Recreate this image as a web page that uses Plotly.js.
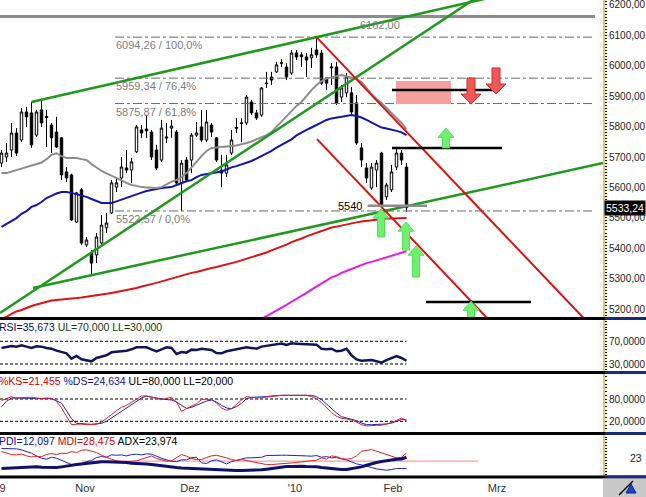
<!DOCTYPE html>
<html><head><meta charset="utf-8">
<script src="https://cdn.plot.ly/plotly-3.0.1.min.js"></script>
<style>html,body{margin:0;padding:0;background:#fff;} #chart{width:646px;height:497px;}</style>
</head><body><div id="chart"></div>
<script>
// ---------- price data (daily candles, index 0 = first visible day) ----------
const open = [5680,5700,5723,5779,5756,5848,5845,5772,5855,5834,
5805,5782,5763,5651,5641,5486,5592,5411,5384,5378,
5417,5467,5516,5601,5631,5664,5657,5717,5789,5792,
5782,5723,5690,5766,5795,5782,5615,5690,5690,5772,
5799,5756,5805,5763,5657,5647,5713,5797,5810,5812,
5881,5845,5838,5941,5963,5980,6008,5996,5976,6042,
6036,6029,6026,6052,6042,5960,5993,5996,5897,5911,
5911,5878,5730,5664,5598,5657,5713,5569,5592,5667,
5713,5667];
const high = [5723,5746,5812,5795,5861,5865,5881,5855,5888,5855,
5812,5832,5766,5667,5645,5585,5598,5437,5394,5450,
5509,5516,5624,5631,5700,5723,5697,5805,5805,5838,
5789,5740,5822,5812,5822,5789,5690,5700,5779,5815,
5855,5855,5812,5766,5707,5707,5789,5828,5828,5904,
5888,5855,5930,5980,5980,6013,6022,6009,6052,6052,
6045,6042,6059,6094.26,6052,5963,6009,6013,5937,5976,
5930,5904,5746,5680,5680,5690,5717,5615,5674,5733,
5723,5680];
const low = [5667,5684,5700,5703,5749,5799,5730,5766,5799,5733,
5713,5730,5624,5618,5490,5483,5411,5404,5312,5351,
5404,5450,5513,5585,5601,5647,5615,5713,5763,5763,
5690,5657,5684,5746,5763,5608,5522.57,5618,5647,5766,
5749,5749,5766,5684,5601,5634,5707,5779,5749,5805,
5838,5822,5832,5927,5937,5976,5996,5953,5970,6019,
5996,5963,5993,6026,5937,5920,5937,5871,5881,5897,
5838,5740,5667,5615,5592,5601,5536,5559,5585,5657,
5674,5520];
const close = [5713,5713,5779,5713,5848,5832,5740,5848,5812,5830,
5763,5733,5641,5631,5493,5582,5417,5427,5351,5437,
5476,5483,5615,5615,5667,5657,5684,5799,5779,5786,
5700,5664,5795,5763,5802,5615,5680,5624,5772,5779,
5756,5815,5782,5690,5647,5674,5756,5795,5812,5897,
5845,5828,5927,5943,5953,6003,6010,5963,6042,6029,
6030,6019,6036,6036,5943,5943,5996,5878,5927,5963,
5848,5746,5690,5631,5667,5680,5542,5608,5651,5713,
5690,5533.24];

// ---------- moving averages ----------
const maGray = [5647,5647,5652,5657,5662,5667,5672,5677,5682,5693,
5707,5712,5703,5697,5697,5697,5693,5690,5677,5664,
5654,5646,5639,5631,5623,5615,5608,5605,5601,5600,
5598,5598,5601,5611,5619,5624,5634,5647,5664,5684,
5703,5720,5730,5731,5733,5735,5736,5738,5741,5746,
5751,5758,5764,5772,5782,5799,5815,5832,5851,5868,
5881,5901,5920,5937,5950,5958,5963,5966,5970,5966,
5963,5957,5947,5927,5907,5891,5878,5861,5845,5828,
5812,5792];
const maBlue = [5470,5480,5490,5499,5513,5522,5536,5542,5552,5565,
5572,5580,5585,5585,5582,5578,5573,5569,5562,5555,
5549,5549,5549,5554,5560,5567,5573,5578,5583,5588,
5592,5595,5598,5600,5601,5608,5615,5620,5624,5634,
5641,5644,5647,5649,5652,5659,5666,5670,5675,5680,
5687,5695,5703,5710,5720,5731,5740,5748,5758,5771,
5781,5789,5797,5805,5814,5822,5827,5830,5832,5835,
5838,5835,5830,5822,5814,5805,5797,5794,5791,5786,
5781,5772];
const maRed = [5167,5174,5184,5192,5197,5204,5210,5215,5220,5225,
5228,5230,5231,5233,5235,5236,5238,5240,5243,5245,
5246,5250,5253,5256,5259,5263,5266,5269,5274,5279,
5282,5286,5291,5296,5299,5306,5310,5315,5319,5322,
5327,5332,5335,5338,5343,5348,5351,5355,5360,5365,
5370,5375,5379,5386,5393,5399,5406,5412,5420,5425,
5432,5439,5445,5450,5457,5463,5468,5471,5475,5478,
5482,5485,5488,5490,5493,5495,5496,5498,5498,5499,
5499,5499];
const maMagentaStart = 50;
const maMagenta = [5149,5158,5168,5177,5186,5196,5205,5214,5224,5233,
5243,5253,5264,5274,5285,5296,5304,5310,5319,5325,
5332,5338,5345,5351,5355,5360,5365,5370,5375,5380,
5385,5390];

// ---------- indicators ----------
const rsi = [58.2,59.4,61.8,60.6,63,60.6,58.2,61.2,60.6,58.2,
57,53.5,51.2,48.8,39.4,44.1,38.2,37,34.7,40.6,
42.9,45.3,50.6,51.2,52.4,53.5,55.9,59.4,59.4,59.4,
55.9,52.4,55.9,59.4,58.2,47.6,51.2,50,55.3,54.7,
57,55.9,54.7,49.4,48.8,52.4,54.1,55.3,57,59.4,
58.2,57,60.6,61.8,62.9,64.7,65.9,63.5,66.5,65.9,
65.3,65.3,65.3,64.1,57,55.9,57,52.4,53.5,57,
45.3,38.2,35.9,35.9,37,34.7,32.4,37,40.6,44.1,
40.6,35.673];
const stochK = [75.5,80.9,86.3,82.7,84.5,84.5,84.5,82.7,80.9,82.7,
81.8,73.7,55.8,33.4,11,12,12.8,11,11,12,
18.2,27.2,37.9,48.7,57.6,63,71.9,80.9,88.1,88.1,
84.5,80.9,78.2,81.8,84.5,71.9,46.9,54,61.2,67.5,
78.2,80,78.2,69.3,55.8,49.6,54,66.6,77.3,86.3,
83.6,82.7,83.6,85.4,87.2,89.9,89.9,89.9,89.9,89.9,
89.9,89.9,86.3,80.9,70.2,55.8,43.3,33.4,28.1,26.3,
23.6,18.2,11,7.5,9.3,9.3,9.3,12,16.4,22.7,
29,21.455];
const stochD = [59.4,73.7,82.7,82.7,82.7,82.7,82.7,81.8,80.9,82.7,
80.9,75.5,68.4,48.7,27.2,14.6,12.8,12.8,12,12.8,
14.6,20,29,37.9,46.9,55.8,64.8,73.7,82.7,88.1,
86.3,82.7,80,78.2,77.3,71.9,63,54.9,57.6,63,
68.4,74.6,77.3,71.9,63,55.8,54,59.4,68.4,80.9,
84.5,84.5,84.5,86.3,88.1,89.9,89.9,89.9,89.9,89.9,
89.9,89.9,89.9,86.3,78.2,66.6,54,42.4,32.5,29,
27.2,21.8,15.5,11,11,11,11,12.8,15.5,20,
24.5,24.634];
const pdi = [33.1,33.1,33,32.7,31.7,30.3,28.2,25.4,23,22,
24,23,20.6,18.5,16.4,15.4,17.5,19.5,20.6,23.7,
24.7,24,26.5,26.1,26.5,25.4,26.8,27.2,26.5,27.5,
27.2,24.7,23,21.3,19.9,19.5,21.3,21.3,23.7,24,
18.2,17.5,20.3,21.3,18.9,17.1,19.5,20.9,22,23.4,
23.4,23.7,24,25.8,26.1,26.1,26.1,26.1,26.1,26.1,
25.4,25.4,25.1,25.8,24,24.7,23.4,23.7,22.3,21.3,
19.2,17.1,16.1,14.3,13.3,11.9,10.9,10.5,11.2,12.3,
12.3,12.097];
const mdi = [30,28.2,26.8,26.5,27.2,25.4,24.4,24.7,24.7,26.8,
27.9,26.8,28.2,27.9,30,28.9,31.3,31.7,30.6,28.9,
26.1,23.7,22,20.3,19.2,19.2,19.9,20.3,22,24,
25.4,22.7,21.3,19.9,20.3,23.4,26.8,25.1,22.7,21.6,
21.6,23.7,25.4,26.1,25.1,23.4,21.6,20.6,21.6,20.6,
19.5,18.9,17.8,16.4,16.4,16.8,17.1,17.1,17.8,18.5,
19.2,19.9,19.9,20.9,23.4,22,25.4,24.7,22.7,22,
22.7,25.4,30.3,31,32,30.3,28.6,26.8,25.1,23.4,
24,28.475];
const adx = [12.3,12.6,12.9,13.3,13.6,14,14.3,14,13.6,13.3,
12.9,13.3,14,15,15.7,16.4,17.1,17.8,18.5,18.9,
19.2,19.2,19.2,19.2,18.9,18.5,17.8,17.8,17.8,17.1,
16.4,15.7,14.7,14.3,13.6,13.3,12.9,12.6,12.3,12.3,
12.3,11.9,11.6,11.2,10.9,10.5,10.2,10.2,10.2,10.2,
10.2,10.5,10.9,11.6,12.3,13.3,14,14.3,14.3,14.7,
14.7,14.3,14.3,14,13.3,12.6,11.9,11.2,11.2,11.2,
11.9,12.9,14,15.7,17.5,18.5,19.5,20.6,21.3,22,
22.3,23.974];
const rsiBands = [70, 30];
const stochBands = [80, 20];
const adxRefLevel = 20;
const adxRefSpan = [16.1, 95.3];

// ---------- time axis ----------
const monthTickPos = [0.2, 16.7, 37.7, 58.7, 78.3, 99.1];
const monthTickText = ['9', 'Nov', 'Dez', "'10", 'Feb', 'Mrz'];

// ---------- drawings ----------
const fibLevels = [6094.26, 5959.34, 5875.87, 5522.57];
const fibSpan = [22.7, 118.7];
const resistLevel = 6162.00, resistSpan = [-0.3, 118.7], resistLabelPos = 75.7;
const supportLevel = 5540, supportSpan = [73.2, 85.1];
const greenLines = [ [[6, 98.3], [5881, 6226.3]], [[-0.3, 96], [5187, 6235]], [[6.3, 120.3], [5269, 5680]] ];
const redLines = [ [[63, 118], [6094.26, 5142.8]], [[63.1, 98], [5759, 5155]] ];
const blackLevels = [5920, 5730, 5223];
const blackSpans = [[78.1, 99.7], [78.1, 100.1], [84.9, 105.9]];
const zoneX = [78.9, 89.9], zonePrice = [5874, 5950];
const upArrowX = [88.9, 75.9, 80.9, 82.9, 93.9];
const upArrowTip = [5795, 5529, 5486, 5407, 5226];
const upArrowBase = [5730, 5437, 5394, 5305, 5120];
const downArrowX = [93.9, 98.9];
const downArrowTop = [5960, 5993];
const downArrowTip = [5874, 5907];

// ---------- build ----------
const days = close.map((_, i) => i);
const lastDay = days[days.length - 1];
const fmt = (v, d) => v.toFixed(d).replace('.', ',');
const traces = [];

fibLevels.forEach(l => traces.push({type:'scatter', mode:'lines', x:fibSpan, y:[l,l], xaxis:'x', yaxis:'y',
  line:{color:'#6a6a6a', width:1, dash:'dashdot'}, hoverinfo:'skip'}));
traces.push({type:'scatter', mode:'lines', x:resistSpan, y:[resistLevel,resistLevel], line:{color:'#8c8c8c', width:3}, hoverinfo:'skip'});

traces.push({type:'candlestick', x:days, open:open, high:high, low:low, close:close, xaxis:'x', yaxis:'y',
  whiskerwidth:0, hoverinfo:'skip',
  increasing:{line:{color:'#000', width:1}, fillcolor:'#fff'},
  decreasing:{line:{color:'#000', width:1}, fillcolor:'#000'}});

const maLine = (y, x, c) => ({type:'scatter', mode:'lines', x:x, y:y, xaxis:'x', yaxis:'y', line:{color:c, width:2}, hoverinfo:'skip'});
traces.push(maLine(maRed, days, '#dc1414'));
traces.push(maLine(maMagenta, days.slice(maMagentaStart), '#e619e6'));
traces.push(maLine(maBlue, days, '#1414b4'));
traces.push(maLine(maGray, days, '#8c8c8c'));

greenLines.forEach(g => traces.push({type:'scatter', mode:'lines', x:g[0], y:g[1], line:{color:'#1f9a1f', width:2.5}, hoverinfo:'skip'}));
redLines.forEach(r => traces.push({type:'scatter', mode:'lines', x:r[0], y:r[1], line:{color:'#dd1111', width:2}, hoverinfo:'skip'}));

traces.push({type:'scatter', mode:'lines', x:[zoneX[0],zoneX[1],zoneX[1],zoneX[0],zoneX[0]],
  y:[zonePrice[0],zonePrice[0],zonePrice[1],zonePrice[1],zonePrice[0]], fill:'toself', fillcolor:'#f5a0a0',
  line:{width:0, color:'rgba(0,0,0,0)'}, hoverinfo:'skip'});
blackLevels.forEach((l, k) => traces.push({type:'scatter', mode:'lines', x:blackSpans[k], y:[l,l], line:{color:'#000', width:2.5}, hoverinfo:'skip'}));
traces.push({type:'scatter', mode:'lines', x:supportSpan, y:[supportLevel,supportLevel], line:{color:'#8c8c8c', width:2.5}, hoverinfo:'skip'});

const upHeadHalf = 1.6, upShaftHalf = 0.7, upHeadH = 30;
upArrowX.forEach((xi, k) => {
  const t = upArrowTip[k], b = upArrowBase[k];
  traces.push({type:'scatter', mode:'lines', fill:'toself', fillcolor:'#6ff06f', line:{color:'#5ada5a', width:1},
    x:[xi, xi+upHeadHalf, xi+upShaftHalf, xi+upShaftHalf, xi-upShaftHalf, xi-upShaftHalf, xi-upHeadHalf, xi],
    y:[t, t-upHeadH, t-upHeadH, b, b, t-upHeadH, t-upHeadH, t], hoverinfo:'skip'});
});
const dnHeadHalf = 2.0, dnShaftHalf = 0.8, dnHeadH = 33;
downArrowX.forEach((xi, k) => {
  const t = downArrowTip[k], b = downArrowTop[k];
  traces.push({type:'scatter', mode:'lines', fill:'toself', fillcolor:'#f05858', line:{color:'#c43030', width:1},
    x:[xi, xi+dnHeadHalf, xi+dnShaftHalf, xi+dnShaftHalf, xi-dnShaftHalf, xi-dnShaftHalf, xi-dnHeadHalf, xi],
    y:[t, t+dnHeadH, t+dnHeadH, b, b, t+dnHeadH, t+dnHeadH, t], hoverinfo:'skip'});
});

rsiBands.forEach(l => traces.push({type:'scatter', mode:'lines', x:[-0.3, lastDay], y:[l,l], xaxis:'x', yaxis:'y2', line:{color:'#000', width:1, dash:'3px,2px'}, hoverinfo:'skip'}));
traces.push({type:'scatter', mode:'lines', x:days, y:rsi, xaxis:'x', yaxis:'y2', line:{color:'#14145e', width:2.5}, hoverinfo:'skip'});
stochBands.forEach(l => traces.push({type:'scatter', mode:'lines', x:[-0.3, lastDay], y:[l,l], xaxis:'x', yaxis:'y3', line:{color:'#000', width:1, dash:'3px,2px'}, hoverinfo:'skip'}));
traces.push({type:'scatter', mode:'lines', x:days, y:stochD, xaxis:'x', yaxis:'y3', line:{color:'#1e1ec8', width:1}, hoverinfo:'skip'});
traces.push({type:'scatter', mode:'lines', x:days, y:stochK, xaxis:'x', yaxis:'y3', line:{color:'#e02020', width:1}, hoverinfo:'skip'});
traces.push({type:'scatter', mode:'lines', x:adxRefSpan, y:[adxRefLevel,adxRefLevel], xaxis:'x', yaxis:'y4', line:{color:'#f08a8a', width:1}, hoverinfo:'skip'});
traces.push({type:'scatter', mode:'lines', x:days, y:pdi, xaxis:'x', yaxis:'y4', line:{color:'#1e1ec8', width:1}, hoverinfo:'skip'});
traces.push({type:'scatter', mode:'lines', x:days, y:mdi, xaxis:'x', yaxis:'y4', line:{color:'#e02020', width:1}, hoverinfo:'skip'});
traces.push({type:'scatter', mode:'lines', x:days, y:adx, xaxis:'x', yaxis:'y4', line:{color:'#10106e', width:3}, hoverinfo:'skip'});

// ---------- layout ----------
const H = 477, W = 603;
const fy = py => 1 - py / H;
const yAx = (extra) => Object.assign({side:'right', anchor:'x', showgrid:false, zeroline:false, showline:true,
  linecolor:'#e6c75a', linewidth:2, ticks:'outside', ticklen:2, tickwidth:1, tickcolor:'#000',
  ticklabeloverflow:'allow', tickfont:{size:10, color:'#222'}, fixedrange:true, automargin:false}, extra);

const hdr = (parts) => parts.map(p => '<span style="color:' + p[1] + '">' + p[0] + '</span>').join(' ');
const L = days.length - 1;

const annotations = [];
fibLevels.forEach(l => {
  const pct = (l - fibLevels[3]) / (fibLevels[0] - fibLevels[3]) * 100;
  annotations.push({xref:'x', yref:'y', x:fibSpan[0], y:l, xanchor:'left', yanchor:'middle', yshift:-8,
    text: fmt(l,2) + ' / ' + fmt(pct,1) + '%', showarrow:false, borderpad:0, font:{size:11, color:'#7c7c7c'}});
});
annotations.push({xref:'x', yref:'y', x:resistLabelPos, y:resistLevel, xanchor:'center', yanchor:'middle', yshift:-8.5,
  text: fmt(resistLevel,2), showarrow:false, borderpad:0, font:{size:11, color:'#7c7c7c'}});
annotations.push({xref:'x', yref:'y', x:supportSpan[0]-0.9, y:supportLevel, xanchor:'right', yanchor:'middle',
  text: String(supportLevel), showarrow:false, borderpad:0, font:{size:11, color:'#000'}});
annotations.push({xref:'paper', yref:'y', x:1, y:close[L], xanchor:'left', yanchor:'middle', xshift:1,
  text: fmt(close[L],2), showarrow:false, borderpad:1, bgcolor:'#000', font:{size:10.5, color:'#fff'}});
annotations.push({xref:'paper', yref:'paper', x:0, y:fy(327), xanchor:'left', yanchor:'middle', xshift:-2, showarrow:false, borderpad:0,
  text: hdr([['RSI=' + fmt(rsi[L],3), '#0a0a50'], ['UL=' + fmt(rsiBands[0],3) + ' LL=' + fmt(rsiBands[1],3), '#143814']]), font:{size:10.5}});
annotations.push({xref:'paper', yref:'paper', x:0, y:fy(381), xanchor:'left', yanchor:'middle', xshift:-2, showarrow:false, borderpad:0,
  text: hdr([['%KS=' + fmt(stochK[L],3), '#cc0000'], ['%DS=' + fmt(stochD[L],3), '#1010a0'], ['UL=' + fmt(stochBands[0],3) + ' LL=' + fmt(stochBands[1],3), '#000']]), font:{size:10.5}});
annotations.push({xref:'paper', yref:'paper', x:0, y:fy(441), xanchor:'left', yanchor:'middle', xshift:-2, showarrow:false, borderpad:0,
  text: hdr([['PDI=' + fmt(pdi[L],3), '#1010a0'], ['MDI=' + fmt(mdi[L],3), '#cc0000'], ['ADX=' + fmt(adx[L],3), '#000']]), font:{size:10.5}});
annotations.push({xref:'paper', yref:'y4', x:646/W, y:Math.floor(adx[L]), xanchor:'right', yanchor:'middle', xshift:-3, showarrow:false, borderpad:0,
  text: String(Math.floor(adx[L])), font:{size:10.5, color:'#222'}});

const shapes = [];
[318.5, 372.5, 433.5, 477].forEach(py => {
  shapes.push({type:'line', xref:'paper', yref:'paper', x0:0, x1:646/W, y0:fy(py), y1:fy(py), line:{color:'#000', width:3}});
  shapes.push({type:'line', xref:'paper', yref:'paper', x0:1.003, x1:646/W, y0:fy(py), y1:fy(py), line:{color:'#1a2a7a', width:3}});
});
shapes.push({type:'rect', xref:'paper', yref:'paper', x0:1, x1:646/W, y0:fy(497), y1:fy(478.5), fillcolor:'#c8c8c8', line:{width:0}});
shapes.push({type:'line', xref:'paper', yref:'paper', x0:619/W, x1:633/W, y0:fy(495), y1:fy(481), line:{color:'#000', width:1.5}});
shapes.push({type:'path', xref:'paper', yref:'paper',
  path:'M ' + (626/W) + ' ' + fy(493) + ' L ' + (631/W) + ' ' + fy(484) + ' L ' + (636/W) + ' ' + fy(493) + ' Z',
  fillcolor:'#1f3fd0', line:{color:'#102080', width:1}});

const layout = {
  width:646, height:497, margin:{l:0, r:43, t:0, b:20, pad:0},
  paper_bgcolor:'#fff', plot_bgcolor:'#fff', showlegend:false, hovermode:false,
  separators:',.',
  font:{family:'Liberation Sans, Arial, sans-serif', size:11, color:'#222'},
  xaxis:{domain:[0,1], range:[-0.3,120.3], anchor:'y4', tickmode:'array', tickvals:monthTickPos, ticktext:monthTickText,
    showgrid:false, zeroline:false, showline:false, ticks:'', ticklabelstandoff:4, ticklabeloverflow:'allow',
    tickfont:{size:11, color:'#333'}, rangeslider:{visible:false}, fixedrange:true},
  yaxis: yAx({domain:[fy(318), 1], range:[5170.5, 6216.4], tickmode:'array',
    tickvals:[5200,5300,5400,5500,5600,5700,5800,5900,6000,6100,6200], tickformat:'.2f',
    minor:{ticks:'outside', ticklen:2, tickcolor:'#000', dtick:10, tickwidth:1}}),
  yaxis2: yAx({domain:[fy(372), fy(319)], range:[15.9,109.3], tickmode:'array', tickvals:rsiBands, tickformat:'.4f',
    minor:{ticks:'outside', ticklen:2, tickcolor:'#000', dtick:5, tickwidth:1}}),
  yaxis3: yAx({domain:[fy(433), fy(373)], range:[-11.4,149.9], tickmode:'array', tickvals:stochBands, tickformat:'.4f',
    minor:{ticks:'outside', ticklen:2, tickcolor:'#000', dtick:10, tickwidth:1}}),
  yaxis4: yAx({domain:[fy(476), fy(434)], range:[4.5,48.2], tickmode:'array', tickvals:[], showticklabels:false,
    minor:{ticks:'outside', ticklen:2, tickcolor:'#000', dtick:3, tickwidth:1}}),
  annotations: annotations,
  shapes: shapes
};

Plotly.newPlot('chart', traces, layout, {staticPlot:true, displayModeBar:false});
</script></body></html>
